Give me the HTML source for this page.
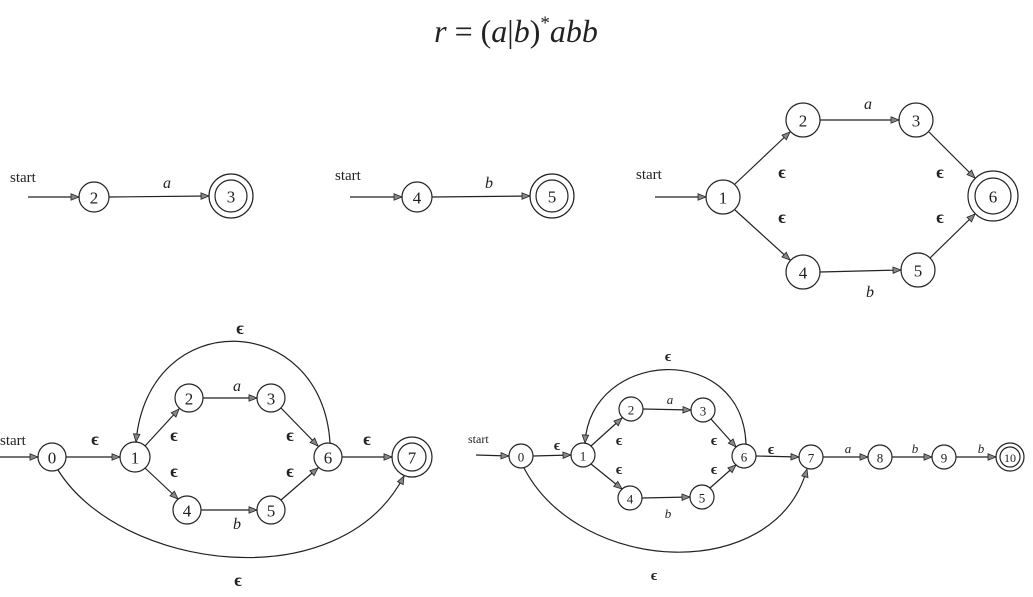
<!DOCTYPE html>
<html><head><meta charset="utf-8"><style>
html,body{margin:0;padding:0;background:#fff;width:1033px;height:597px;overflow:hidden}
svg{display:block}
text{font-family:"Liberation Serif",serif;fill:#222}
.n{font-size:17px;text-anchor:middle;dominant-baseline:central}
.s{font-size:15px}
.l{font-size:16px;font-style:italic;text-anchor:middle}
.e{font-size:18px;text-anchor:middle;font-weight:bold}
</style></head><body>
<svg width="1033" height="597" viewBox="0 0 1033 597">
<defs><marker id="ar" viewBox="0 0 10 10" refX="10" refY="5" markerWidth="10" markerHeight="8" markerUnits="userSpaceOnUse" orient="auto"><path d="M0,1 L10,5 L0,9 Z" fill="#888" stroke="#222" stroke-width="1"/></marker></defs>
<text x="516" y="42" text-anchor="middle" style="font-family:'Liberation Serif',serif;font-size:32px;font-style:italic">r <tspan font-style="normal">= (</tspan>a<tspan font-style="normal">|</tspan>b<tspan font-style="normal">)</tspan><tspan font-size="19" dy="-13" font-style="normal">*</tspan><tspan dy="13">abb</tspan></text>
<g stroke="#222" stroke-width="1.2" fill="none">
<line x1="28" y1="197" x2="79" y2="197" marker-end="url(#ar)"/>
<circle cx="94" cy="197" r="15"/>
<line x1="109" y1="197" x2="209" y2="196" marker-end="url(#ar)"/>
<circle cx="231" cy="196" r="22"/><circle cx="231" cy="196" r="16"/>
<line x1="350" y1="197" x2="402" y2="197" marker-end="url(#ar)"/>
<circle cx="417" cy="197" r="15"/>
<line x1="432" y1="197" x2="530" y2="196" marker-end="url(#ar)"/>
<circle cx="552" cy="196" r="22"/><circle cx="552" cy="196" r="16"/>
<line x1="655" y1="197" x2="706" y2="197" marker-end="url(#ar)"/>
<circle cx="723" cy="197" r="17"/>
<circle cx="803" cy="120" r="17"/><circle cx="916" cy="120" r="17"/>
<circle cx="803" cy="272" r="17"/><circle cx="918" cy="270" r="17"/>
<circle cx="993" cy="196" r="25"/><circle cx="993" cy="196" r="18"/>
<line x1="735" y1="184" x2="790" y2="132" marker-end="url(#ar)"/>
<line x1="735" y1="210" x2="790" y2="260" marker-end="url(#ar)"/>
<line x1="820" y1="120" x2="899" y2="120" marker-end="url(#ar)"/>
<line x1="820" y1="272" x2="901" y2="270" marker-end="url(#ar)"/>
<line x1="929" y1="132" x2="975" y2="178" marker-end="url(#ar)"/>
<line x1="930" y1="258" x2="975" y2="214" marker-end="url(#ar)"/>
<line x1="0" y1="457" x2="38" y2="457" marker-end="url(#ar)"/>
<circle cx="52" cy="457" r="14"/><circle cx="135" cy="457" r="15"/>
<circle cx="189" cy="398" r="14"/><circle cx="271" cy="398" r="14"/>
<circle cx="187" cy="510" r="14"/><circle cx="271" cy="510" r="14"/>
<circle cx="328" cy="457" r="14"/>
<circle cx="412" cy="457" r="20"/><circle cx="412" cy="457" r="14"/>
<line x1="66" y1="457" x2="120" y2="457" marker-end="url(#ar)"/>
<line x1="145" y1="446" x2="179" y2="409" marker-end="url(#ar)"/>
<line x1="145" y1="468" x2="178" y2="499" marker-end="url(#ar)"/>
<line x1="203" y1="398" x2="257" y2="398" marker-end="url(#ar)"/>
<line x1="201" y1="510" x2="257" y2="510" marker-end="url(#ar)"/>
<line x1="281" y1="408" x2="318" y2="446" marker-end="url(#ar)"/>
<line x1="281" y1="500" x2="318" y2="468" marker-end="url(#ar)"/>
<line x1="342" y1="457" x2="392" y2="457" marker-end="url(#ar)"/>
<path d="M330,443 C322,310 148,305 136,442" marker-end="url(#ar)"/>
<path d="M58,470 C120,570 340,600 404,476" marker-end="url(#ar)"/>
<line x1="476" y1="455" x2="509" y2="456" marker-end="url(#ar)"/>
<circle cx="521" cy="456" r="12"/><circle cx="583" cy="455" r="12"/>
<circle cx="631" cy="409" r="12"/><circle cx="703" cy="410" r="12"/>
<circle cx="630" cy="498" r="12"/><circle cx="702" cy="497" r="12"/>
<circle cx="744" cy="456" r="12"/><circle cx="811" cy="457" r="12"/>
<circle cx="880" cy="457" r="12"/><circle cx="944" cy="457" r="12"/>
<circle cx="1010" cy="457" r="14"/><circle cx="1010" cy="457" r="10"/>
<line x1="533" y1="456" x2="571" y2="455" marker-end="url(#ar)"/>
<line x1="591" y1="446" x2="622" y2="418" marker-end="url(#ar)"/>
<line x1="591" y1="464" x2="622" y2="489" marker-end="url(#ar)"/>
<line x1="643" y1="409" x2="691" y2="410" marker-end="url(#ar)"/>
<line x1="642" y1="498" x2="690" y2="497" marker-end="url(#ar)"/>
<line x1="711" y1="419" x2="736" y2="447" marker-end="url(#ar)"/>
<line x1="710" y1="488" x2="736" y2="465" marker-end="url(#ar)"/>
<line x1="756" y1="456" x2="799" y2="457" marker-end="url(#ar)"/>
<line x1="823" y1="457" x2="868" y2="457" marker-end="url(#ar)"/>
<line x1="892" y1="457" x2="932" y2="457" marker-end="url(#ar)"/>
<line x1="956" y1="457" x2="996" y2="457" marker-end="url(#ar)"/>
<path d="M746,444 C742,340 590,350 585,443" marker-end="url(#ar)"/>
<path d="M524,468 C580,575 775,585 807,469" marker-end="url(#ar)"/>
</g>
<text class="s" x="10" y="182">start</text>
<text class="n" x="94" y="198">2</text><text class="n" x="231" y="197">3</text>
<text class="l" x="167" y="188">a</text>
<text class="s" x="335" y="180">start</text>
<text class="n" x="417" y="198">4</text><text class="n" x="552" y="197">5</text>
<text class="l" x="489" y="188">b</text>
<text class="s" x="636" y="179">start</text>
<text class="n" x="723" y="198">1</text><text class="n" x="803" y="121">2</text><text class="n" x="916" y="121">3</text>
<text class="n" x="803" y="273">4</text><text class="n" x="918" y="271">5</text><text class="n" x="993" y="197">6</text>
<text class="l" x="868" y="109">a</text><text class="l" x="870" y="297">b</text>
<text class="e" x="782" y="178">ϵ</text><text class="e" x="782" y="223">ϵ</text>
<text class="e" x="940" y="178">ϵ</text><text class="e" x="940" y="223">ϵ</text>
<text class="s" x="0" y="445">start</text>
<text class="n" x="52" y="458">0</text><text class="n" x="135" y="458">1</text>
<text class="n" x="189" y="399">2</text><text class="n" x="271" y="399">3</text>
<text class="n" x="187" y="511">4</text><text class="n" x="271" y="511">5</text>
<text class="n" x="328" y="458">6</text><text class="n" x="412" y="458">7</text>
<text class="l" x="237" y="391">a</text><text class="l" x="237" y="529">b</text>
<text class="e" x="95" y="445">ϵ</text><text class="e" x="174" y="441">ϵ</text><text class="e" x="174" y="477">ϵ</text>
<text class="e" x="290" y="441">ϵ</text><text class="e" x="290" y="477">ϵ</text><text class="e" x="367" y="445">ϵ</text>
<text class="e" x="240" y="334">ϵ</text><text class="e" x="238" y="586">ϵ</text>
<text class="s" x="468" y="443" style="font-size:12px">start</text>
<text class="n" x="521" y="457" style="font-size:13px">0</text><text class="n" x="583" y="456" style="font-size:13px">1</text>
<text class="n" x="631" y="410" style="font-size:13px">2</text><text class="n" x="703" y="411" style="font-size:13px">3</text>
<text class="n" x="630" y="499" style="font-size:13px">4</text><text class="n" x="702" y="498" style="font-size:13px">5</text>
<text class="n" x="744" y="457" style="font-size:13px">6</text><text class="n" x="811" y="458" style="font-size:13px">7</text>
<text class="n" x="880" y="458" style="font-size:13px">8</text><text class="n" x="944" y="458" style="font-size:13px">9</text>
<text class="n" x="1010" y="458" style="font-size:12px">10</text>
<text class="l" x="670" y="404" style="font-size:13px">a</text><text class="l" x="668" y="518" style="font-size:13px">b</text>
<text class="l" x="848" y="453" style="font-size:13px">a</text><text class="l" x="915" y="453" style="font-size:13px">b</text><text class="l" x="981" y="453" style="font-size:13px">b</text>
<text class="e" x="557" y="450" style="font-size:15px">ϵ</text><text class="e" x="619" y="445" style="font-size:15px">ϵ</text><text class="e" x="619" y="474" style="font-size:15px">ϵ</text>
<text class="e" x="714" y="445" style="font-size:15px">ϵ</text><text class="e" x="714" y="474" style="font-size:15px">ϵ</text><text class="e" x="771" y="454" style="font-size:15px">ϵ</text>
<text class="e" x="668" y="361" style="font-size:15px">ϵ</text><text class="e" x="654" y="580" style="font-size:15px">ϵ</text>
</svg>
</body></html>
